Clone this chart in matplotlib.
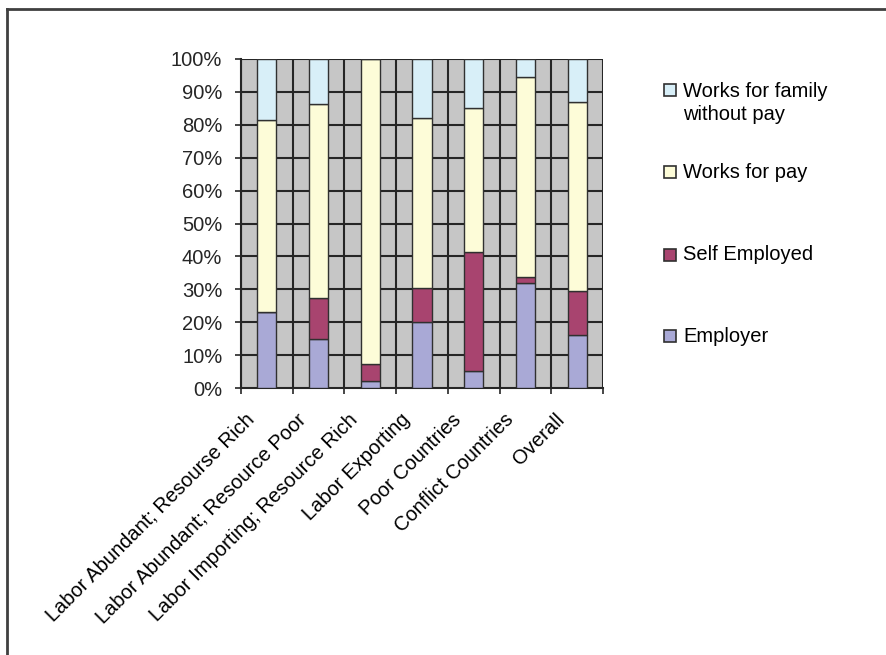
import matplotlib
matplotlib.use("Agg")
import matplotlib.pyplot as plt
import matplotlib.transforms as mtransforms
from matplotlib.patches import Rectangle
from matplotlib.lines import Line2D
import numpy as np

plt.rcParams['font.family'] = ['Liberation Sans', 'DejaVu Sans']

categories = ["Labor Abundant; Resourse Rich", "Labor Abundant; Resource Poor",
              "Labor Importing; Resource Rich", "Labor Exporting", "Poor Countries",
              "Conflict Countries", "Overall"]
# percent shares, bottom to top
employer = [23.1, 15.0, 2.1, 20.1, 5.1, 32.0, 16.0]
self_employed = [0.0, 12.4, 5.3, 10.2, 36.1, 1.6, 13.5]
works_for_pay = [58.4, 58.9, 92.6, 51.7, 43.9, 60.9, 57.3]
family_no_pay = [18.5, 13.7, 0.0, 18.0, 14.9, 5.5, 13.2]

series = [("Employer", employer, "#a9a9d6"),
          ("Self Employed", self_employed, "#a8446f"),
          ("Works for pay", works_for_pay, "#fdfcd8"),
          ("Works for family\nwithout pay", family_no_pay, "#d8eff8")]

FS = 14.5
W, H = 886, 655
fig = plt.figure(figsize=(W / 100, H / 100), dpi=100)
ax = fig.add_axes([241 / W, 1 - 388 / H, (603 - 241) / W, (388 - 59) / H])
ax.set_facecolor("#c6c6c6")

x = np.arange(len(categories))
bottom = np.zeros(len(categories))
for name, vals, col in series:
    vals = np.array(vals)
    ax.bar(x, vals, 0.37, bottom=bottom, color=col, edgecolor="#303030",
           linewidth=1.0, zorder=3)
    bottom += vals

ax.set_xlim(-0.5, len(categories) - 0.5)
ax.set_ylim(0, 100)

# grid lines (horizontal every 10%, vertical at category boundaries)
for v in range(10, 101, 10):
    ax.axhline(v, color="#262626", lw=1.5, zorder=1)
for b in np.arange(-0.5, len(categories), 1.0):
    ax.axvline(b, color="#262626", lw=1.5, zorder=1)

for s in ["top", "right"]:
    ax.spines[s].set_visible(False)
for s in ["left", "bottom"]:
    ax.spines[s].set_color("#262626")
    ax.spines[s].set_linewidth(1.5)

ax.set_yticks(range(0, 101, 10))
ax.set_yticklabels([f"{v}%" for v in range(0, 101, 10)], fontsize=FS)
ax.tick_params(axis="y", direction="out", length=4.5, width=1.2, pad=9, colors="#262626")

ax.set_xticks(np.arange(-0.5, len(categories), 1.0), minor=True)
ax.tick_params(axis="x", which="minor", direction="out", length=4.5, width=1.2, color="#262626")
ax.set_xticks(x)
ax.set_xticklabels(categories, rotation=45, ha="right", va="top",
                   rotation_mode="anchor", fontsize=FS)
ax.tick_params(axis="x", which="major", length=0, pad=0)
offset = mtransforms.ScaledTranslation(-22 / 100, -22 / 100, fig.dpi_scale_trans)
for lab in ax.get_xticklabels():
    lab.set_transform(lab.get_transform() + offset)

# legend drawn manually, top entry first
legend_y = [90, 172, 255, 336]
for (name, vals, col), yy in zip(series[::-1], legend_y):
    fig.patches.append(Rectangle((664 / W, 1 - (yy + 6) / H), 12 / W, 12 / H,
                                 transform=fig.transFigure, facecolor=col,
                                 edgecolor="#303030", lw=1.2))
    if "\n" in name:
        fig.text(683 / W, 1 - (yy - 8) / H, name, fontsize=FS, va="top",
                 ha="left", linespacing=1.3)
    else:
        fig.text(683 / W, 1 - yy / H, name, fontsize=FS, va="center", ha="left")

# outer frame (top and left)
fig.lines.append(Line2D([7 / W, 1], [1 - 9 / H, 1 - 9 / H], transform=fig.transFigure,
                        color="#404040", lw=2))
fig.lines.append(Line2D([7 / W, 7 / W], [0, 1 - 9 / H], transform=fig.transFigure,
                        color="#404040", lw=2))

fig.savefig("out.png", dpi=100)
